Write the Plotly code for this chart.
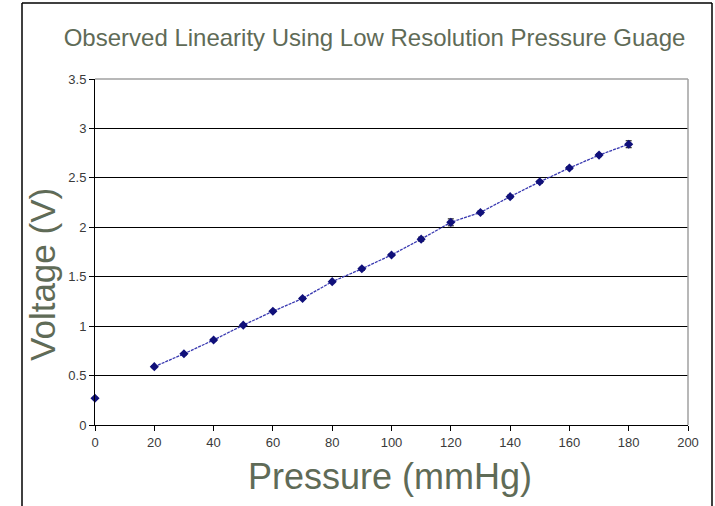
import plotly.graph_objects as go

pressure = [0, 20, 30, 40, 50, 60, 70, 80, 90, 100, 110, 120, 130, 140, 150, 160, 170, 180]
voltage = [0.27, 0.59, 0.72, 0.86, 1.01, 1.15, 1.28, 1.45, 1.58, 1.72, 1.88, 2.05, 2.15, 2.31, 2.46, 2.60, 2.73, 2.84]
error = [0.01, 0.01, 0.01, 0.01, 0.01, 0.01, 0.01, 0.01, 0.015, 0.01, 0.02, 0.035, 0.015, 0.015, 0.015, 0.015, 0.015, 0.035]

x_ticks = [0, 20, 40, 60, 80, 100, 120, 140, 160, 180, 200]
y_ticks = [0, 0.5, 1, 1.5, 2, 2.5, 3, 3.5]
y_tick_text = ["0", "0.5", "1", "1.5", "2", "2.5", "3", "3.5"]

title_text = "Observed Linearity Using Low Resolution Pressure Guage"
x_title = "Pressure (mmHg)"
y_title = "Voltage (V)"

marker_color = "#10107a"
line_color = "#3838b0"
text_green = "#5f6b57"
tick_color = "#3a3a3a"
FONT = "Liberation Sans, Arial, sans-serif"

fig = go.Figure()

# isolated first point
fig.add_trace(go.Scatter(
    x=pressure[:1], y=voltage[:1], mode="markers", cliponaxis=False,
    marker=dict(symbol="diamond", size=7, color=marker_color),
    error_y=dict(type="data", array=error[:1], color="#000000", thickness=1, width=3),
    showlegend=False,
))
# connected series
fig.add_trace(go.Scatter(
    x=pressure[1:], y=voltage[1:], mode="lines+markers", cliponaxis=False,
    line=dict(color=line_color, width=1.3, dash="3px,1px"),
    marker=dict(symbol="diamond", size=7, color=marker_color),
    error_y=dict(type="data", array=error[1:], color="#000000", thickness=1, width=3),
    showlegend=False,
))

fig.update_layout(
    width=715, height=506,
    margin=dict(l=95, r=27, t=79, b=81),
    paper_bgcolor="white", plot_bgcolor="white",
    font=dict(family=FONT, color=tick_color, size=13),
    title=dict(text=title_text, x=374.5 / 715, xanchor="center", xref="container",
               y=1 - 38 / 506, yref="container", yanchor="middle",
               font=dict(size=24, color=text_green, family=FONT)),
    xaxis=dict(range=[0, 200], tickvals=x_ticks, showgrid=False, zeroline=False,
               showline=True, linecolor="black", linewidth=1,
               ticks="outside", ticklen=5, tickcolor="black", tickwidth=1,
               tickfont=dict(size=13, color=tick_color)),
    yaxis=dict(range=[0, 3.5], tickvals=y_ticks, ticktext=y_tick_text,
               showgrid=True, gridcolor="black", gridwidth=1, zeroline=False,
               showline=True, linecolor="black", linewidth=1,
               ticks="outside", ticklen=5, tickcolor="black", tickwidth=1,
               tickfont=dict(size=13, color=tick_color)),
    annotations=[
        dict(text=x_title, xref="paper", yref="paper", x=(390 - 95) / 593, y=(425 - 476) / 346,
             xanchor="center", yanchor="middle", showarrow=False,
             font=dict(size=36, color=text_green, family=FONT)),
        dict(text=y_title, xref="paper", yref="paper", x=(42 - 95) / 593, y=(425 - 275) / 346,
             xanchor="center", yanchor="middle", showarrow=False, textangle=-90,
             font=dict(size=35, color=text_green, family=FONT)),
    ],
    shapes=[
        # grey top and right plot border
        dict(type="line", xref="paper", yref="paper", x0=0, x1=1, y0=1, y1=1,
             line=dict(color="#a0a0a0", width=1.5), layer="above"),
        dict(type="line", xref="paper", yref="paper", x0=1, x1=1, y0=0, y1=1,
             line=dict(color="#a0a0a0", width=1.5), layer="above"),
        # outer chart frame
        dict(type="line", xref="paper", yref="paper", x0=(22 - 95) / 593, x1=(22 - 95) / 593,
             y0=(425 - 3) / 346, y1=-0.3, line=dict(color="black", width=1.5)),
        dict(type="line", xref="paper", yref="paper", x0=(712 - 95) / 593, x1=(712 - 95) / 593,
             y0=(425 - 3) / 346, y1=-0.3, line=dict(color="black", width=1.5)),
        dict(type="line", xref="paper", yref="paper", x0=(22 - 95) / 593, x1=(712 - 95) / 593,
             y0=(425 - 3) / 346, y1=(425 - 3) / 346, line=dict(color="black", width=1.5)),
    ],
)

fig.write_html("out.html", config={"displayModeBar": False},
               post_script="document.body.style.margin='0';")
